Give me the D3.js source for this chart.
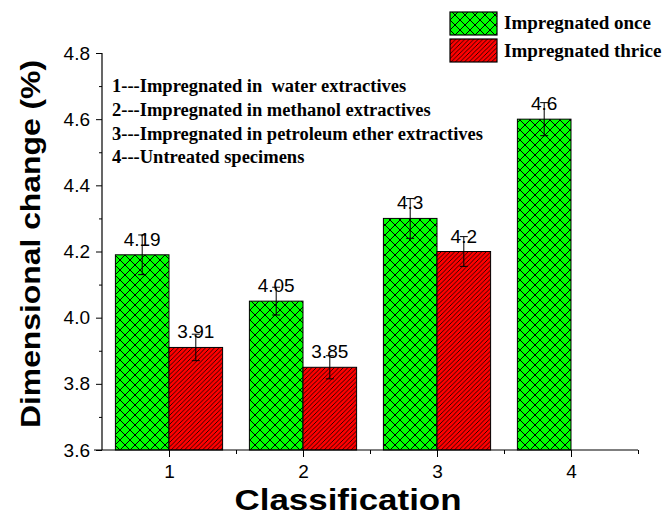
<!DOCTYPE html>
<html><head><meta charset="utf-8">
<script src="https://cdn.jsdelivr.net/npm/d3@7"></script>
<style>
body{margin:0;background:#fff;}
svg{display:block;}
</style></head>
<body>
<svg id="chart" width="664" height="522"></svg>
<script>
const categories = [1, 2, 3, 4];
const onceValues = [4.19, 4.05, 4.30, 4.60];
const thriceValues = [3.91, 3.85, 4.20, null];
const onceErrors = [0.06, 0.042, 0.06, 0.05];
const thriceErrors = [0.04, 0.035, 0.045, null];
const onceLabels = ["4.19", "4.05", "4.3", "4.6"];
const thriceLabels = ["3.91", "3.85", "4.2", null];
const yTicks = [3.6, 3.8, 4.0, 4.2, 4.4, 4.6, 4.8];
const yMinorTicks = [3.7, 3.9, 4.1, 4.3, 4.5, 4.7];
const xMinorTicks = [1.5, 2.5, 3.5, 4.5];
const legendNames = ["Impregnated once", "Impregnated thrice"];
const notes = ["1---Impregnated in  water extractives",
               "2---Impregnated in methanol extractives",
               "3---Impregnated in petroleum ether extractives",
               "4---Untreated specimens"];

const svg = d3.select("#chart");
const x = d3.scaleLinear().domain([0.5, 4.5]).range([102, 638]);
const y = d3.scaleLinear().domain([3.6, 4.8]).range([450, 53]);
const barW = 0.4;

// patterns
const defs = svg.append("defs");
const pg = defs.append("pattern").attr("id","cross").attr("patternUnits","userSpaceOnUse")
  .attr("width",10).attr("height",10);
pg.append("rect").attr("width",10).attr("height",10).attr("fill","#00ff00");
pg.append("path").attr("d","M0,0L10,10M10,0L0,10M-5,5L5,-5M5,15L15,5M-5,5L5,15M5,-5L15,5")
  .attr("stroke","#000").attr("stroke-width",1);
const pr = defs.append("pattern").attr("id","hatch").attr("patternUnits","userSpaceOnUse")
  .attr("width",4.5).attr("height",4.5);
pr.append("rect").attr("width",4.5).attr("height",4.5).attr("fill","#ff0000");
pr.append("path").attr("d","M0,4.5L4.5,0M-1,1L1,-1M3.5,5.5L5.5,3.5")
  .attr("stroke","#000").attr("stroke-width",0.8);

// bars
const g = svg.append("g");
categories.forEach((c, i) => {
  if (onceValues[i] != null) {
    g.append("rect").attr("x", x(c - barW)).attr("y", y(onceValues[i]))
      .attr("width", x(c) - x(c - barW)).attr("height", y(3.6) - y(onceValues[i]))
      .attr("fill","url(#cross)").attr("stroke","#000").attr("stroke-width",1);
  }
  if (thriceValues[i] != null) {
    g.append("rect").attr("x", x(c)).attr("y", y(thriceValues[i]))
      .attr("width", x(c + barW) - x(c)).attr("height", y(3.6) - y(thriceValues[i]))
      .attr("fill","url(#hatch)").attr("stroke","#000").attr("stroke-width",1);
  }
});

// error bars & labels
function errBar(cx, v, e, lab) {
  const top = y(v + e), bot = y(v - e);
  g.append("line").attr("x1",cx).attr("x2",cx).attr("y1",top).attr("y2",bot)
    .attr("stroke","#000").attr("stroke-width",1);
  [top, bot].forEach(yy => g.append("line").attr("x1",cx-4).attr("x2",cx+4)
    .attr("y1",yy).attr("y2",yy).attr("stroke","#000").attr("stroke-width",1));
  g.append("text").attr("x", cx).attr("y", y(v) - 9).attr("text-anchor","middle")
    .attr("font-family","Arial, 'Liberation Sans', sans-serif").attr("font-size",19)
    .attr("fill","#000").text(lab);
}
categories.forEach((c, i) => {
  if (onceValues[i] != null) errBar((x(c - barW) + x(c)) / 2, onceValues[i], onceErrors[i], onceLabels[i]);
  if (thriceValues[i] != null) errBar((x(c) + x(c + barW)) / 2, thriceValues[i], thriceErrors[i], thriceLabels[i]);
});

// axes
const font = "Arial, 'Liberation Sans', sans-serif";
const yAxis = d3.axisLeft(y).tickValues(yTicks).tickFormat(d3.format(".1f")).tickSize(6).tickPadding(5);
const ya = svg.append("g").attr("transform","translate(102,0)").call(yAxis);
const yMinor = d3.axisLeft(y).tickValues(yMinorTicks).tickFormat("").tickSize(3);
svg.append("g").attr("transform","translate(102,0)").call(yMinor).select(".domain").remove();
const xAxis = d3.axisBottom(x).tickValues(categories).tickFormat(d3.format("d")).tickSize(7).tickPadding(8);
const xa = svg.append("g").attr("transform","translate(0,450)").call(xAxis);
const xMinor = d3.axisBottom(x).tickValues(xMinorTicks).tickFormat("").tickSize(4);
svg.append("g").attr("transform","translate(0,450)").call(xMinor).select(".domain").remove();
ya.select(".domain").attr("d","M0,53V450");
xa.select(".domain").attr("d","M102,0H638");
svg.selectAll(".tick line").attr("stroke","#000");
svg.selectAll(".domain").attr("stroke","#000").attr("stroke-width",1.2);
svg.selectAll(".tick text").attr("font-family",font).attr("font-size",19).attr("fill","#000");
ya.selectAll(".tick text").attr("x",-12);
svg.append("line").attr("x1",94).attr("x2",102).attr("y1",y(3.6)).attr("y2",y(3.6)).attr("stroke","#000");

// titles
svg.append("text").attr("transform","translate(40,244) rotate(-90)").attr("text-anchor","middle")
  .attr("font-family",font).attr("font-weight","bold").attr("font-size",27)
  .attr("textLength",368).attr("lengthAdjust","spacingAndGlyphs").text("Dimensional change (%)");
svg.append("text").attr("x",348).attr("y",510).attr("text-anchor","middle")
  .attr("font-family",font).attr("font-weight","bold").attr("font-size",29)
  .attr("textLength",227).attr("lengthAdjust","spacingAndGlyphs").text("Classification");

// notes
const serif = "'Times New Roman', 'Liberation Serif', serif";
notes.forEach((t, i) => {
  svg.append("text").attr("x",112).attr("y",92 + i * 23.8).style("white-space","pre")
    .attr("font-family",serif).attr("font-weight","bold").attr("font-size",18.5).text(t);
});

// legend
const fills = ["url(#cross)", "url(#hatch)"];
legendNames.forEach((n, i) => {
  svg.append("rect").attr("x",450).attr("y",12 + i * 27).attr("width",47).attr("height",23)
    .attr("fill",fills[i]).attr("stroke","#000").attr("stroke-width",1.2);
  svg.append("text").attr("x",504).attr("y",29 + i * 27.5)
    .attr("font-family",serif).attr("font-weight","bold").attr("font-size",19).text(n);
});
</script>
</body></html>
